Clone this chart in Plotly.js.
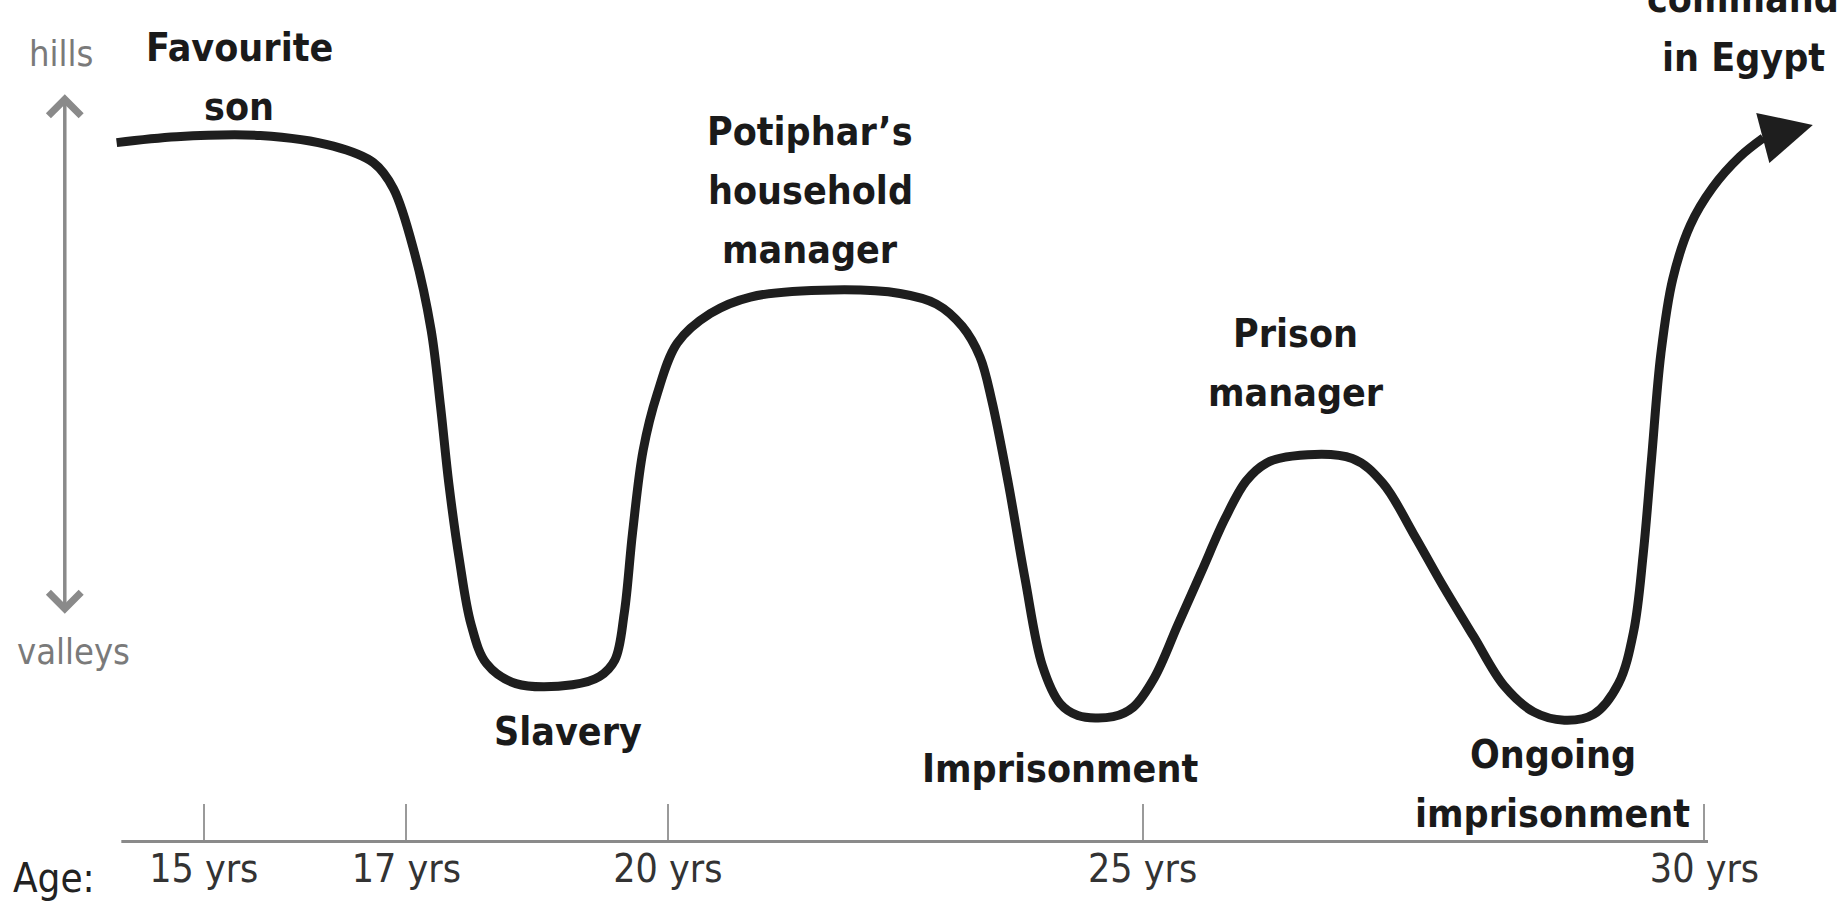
<!DOCTYPE html>
<html>
<head>
<meta charset="utf-8">
<script src="https://cdn.plot.ly/plotly-3.0.1.min.js"></script>
<style>html,body{margin:0;padding:0;background:#fff;}#chart{width:1847px;height:904px;}</style>
</head>
<body>
<div id="chart"></div>
<script>
// Timeline position (schematic, not linear in years) and "fortune" level (valleys 0 .. hills 100)
const curveX = [-0.4, 4.7, 11.8, 18.0, 21.4, 23.1, 24.9, 26.3, 27.1, 27.8, 28.7, 29.7, 31.0, 33.5, 38.3, 40.6, 41.9, 42.7, 43.4, 44.3, 45.5, 47.2, 50.0, 53.4, 60.4, 66.1, 69.2, 71.4, 72.9, 73.9, 75.3, 76.7, 78.2, 79.7, 81.2, 84.2, 85.9, 87.7, 89.7, 91.7, 93.7, 95.5, 97.2, 99.4, 104.5, 107.1, 109.7, 112.2, 114.8, 117.4, 119.9, 122.5, 125.0, 127.1, 128.4, 129.2, 129.9, 130.7, 131.7, 133.2, 135.1, 137.4, 139.4];
const curveY = [98.2, 99.2, 99.4, 97.6, 94.8, 90.4, 79.4, 66.4, 53.4, 40.4, 27.4, 16.4, 9.8, 6.4, 6.2, 7.6, 10.4, 18.4, 32.0, 46.0, 55.6, 64.2, 69.2, 72.0, 73.2, 72.6, 70.8, 67.0, 61.8, 54.4, 40.4, 24.4, 9.4, 3.0, 1.0, 0.8, 2.4, 7.4, 16.4, 25.4, 34.4, 40.8, 43.8, 45.0, 44.6, 40.4, 31.8, 23.0, 14.4, 6.0, 1.6, 0.2, 1.2, 6.4, 15.4, 28.4, 44.4, 62.4, 75.0, 84.2, 90.6, 95.8, 99.0];
const arrowTip = [143.6, 101.2];

const tickPositions = [7.0, 24.2, 46.4, 86.7, 134.4];
const tickLabels = ["15 yrs", "17 yrs", "20 yrs", "25 yrs", "30 yrs"];
const axisStart = 0, axisEnd = 134.7, axisLevel = -20.4;

const eventLabels = ["Favourite<br>son", "Slavery", "Potiphar\u2019s<br>household<br>manager", "Imprisonment", "Prison<br>manager", "Ongoing<br>imprisonment", "command<br>in Egypt"];
const eventX = [10.0, 37.9, 58.5, 79.7, 99.7, 121.5, 137.7];
const eventY = [109.4, -1.8, 90.0, -8.0, 60.8, -10.6, 117.6];

const scaleLabels = ["hills", "valleys"];
const scaleLabelX = [-5.1, -4.1];
const scaleLabelY = [113.4, 11.8];
const scaleArrowX = -4.8, scaleArrowTop = 106.4, scaleArrowBottom = 18.0;
const ageLabel = "Age:", ageX = -5.7, ageY = -26.6;

const FONT = "'Liberation Sans Narrow', 'Arial Narrow', 'DejaVu Sans Condensed', sans-serif";
const LABEL_SIZE = 39, LINE_GAP = 59;

const trace = {
  type: 'scatter', mode: 'lines', x: curveX, y: curveY,
  line: {color: '#1e1e1e', width: 9, shape: 'spline', smoothing: 1},
  hoverinfo: 'skip'
};

const annotations = [];
eventLabels.forEach((t, i) => {
  const lines = t.split('<br>');
  lines.forEach((ln, j) => annotations.push({
    x: eventX[i], y: eventY[i], xref: 'x', yref: 'y', text: '<b>' + ln + '</b>', showarrow: false,
    xanchor: 'center', yanchor: 'middle', align: 'center',
    yshift: ((lines.length - 1) / 2 - j) * LINE_GAP,
    font: {family: FONT, size: LABEL_SIZE, color: '#1a1a1a'}
  }));
});
scaleLabels.forEach((t, i) => annotations.push({
  x: scaleLabelX[i], y: scaleLabelY[i], xref: 'x', yref: 'y', text: t, showarrow: false,
  xanchor: 'center', yanchor: 'middle', font: {family: FONT, size: 36, color: '#7a7a7a'}
}));
annotations.push({
  x: ageX, y: ageY, xref: 'x', yref: 'y', text: ageLabel, showarrow: false,
  xanchor: 'center', yanchor: 'middle', font: {family: FONT, size: 40, color: '#222'}
});
// vertical hills/valleys double arrow
annotations.push({
  x: scaleArrowX, y: scaleArrowTop, ax: scaleArrowX, ay: scaleArrowBottom,
  xref: 'x', yref: 'y', axref: 'x', ayref: 'y', text: '', showarrow: true,
  arrowside: 'end+start', arrowhead: 4, startarrowhead: 4, arrowsize: 1.8, startarrowsize: 1.8,
  arrowwidth: 3.5, arrowcolor: '#8a8a8a'
});
// curve end arrow
const n = curveX.length;
annotations.push({
  x: arrowTip[0], y: arrowTip[1], ax: curveX[n - 1], ay: curveY[n - 1],
  xref: 'x', yref: 'y', axref: 'x', ayref: 'y', text: '', showarrow: true,
  arrowhead: 2, arrowsize: 1.15, arrowwidth: 9, arrowcolor: '#1e1e1e', standoff: 0
});

const layout = {
  width: 1847, height: 904,
  margin: {l: 0, r: 0, t: 0, b: 0},
  paper_bgcolor: '#fff', plot_bgcolor: '#fff',
  showlegend: false,
  xaxis: {
    range: [-10.3, 146.5], showgrid: false, zeroline: false, showline: false,
    anchor: 'free', position: (axisLevel + 31) / 153.4,
    tickmode: 'array', tickvals: tickPositions, ticktext: tickLabels,
    ticks: 'inside', ticklen: 38, tickwidth: 2, tickcolor: '#9a9a9a',
    tickfont: {family: FONT, size: 39, color: '#333'}, fixedrange: true
  },
  yaxis: {range: [-31, 122.4], visible: false, fixedrange: true},
  shapes: [{
    type: 'line', xref: 'x', yref: 'y', x0: axisStart, x1: axisEnd, y0: axisLevel, y1: axisLevel,
    line: {color: '#8a8a8a', width: 3}
  }],
  annotations: annotations
};

Plotly.newPlot('chart', [trace], layout, {displayModeBar: false, staticPlot: true});
</script>
</body>
</html>
